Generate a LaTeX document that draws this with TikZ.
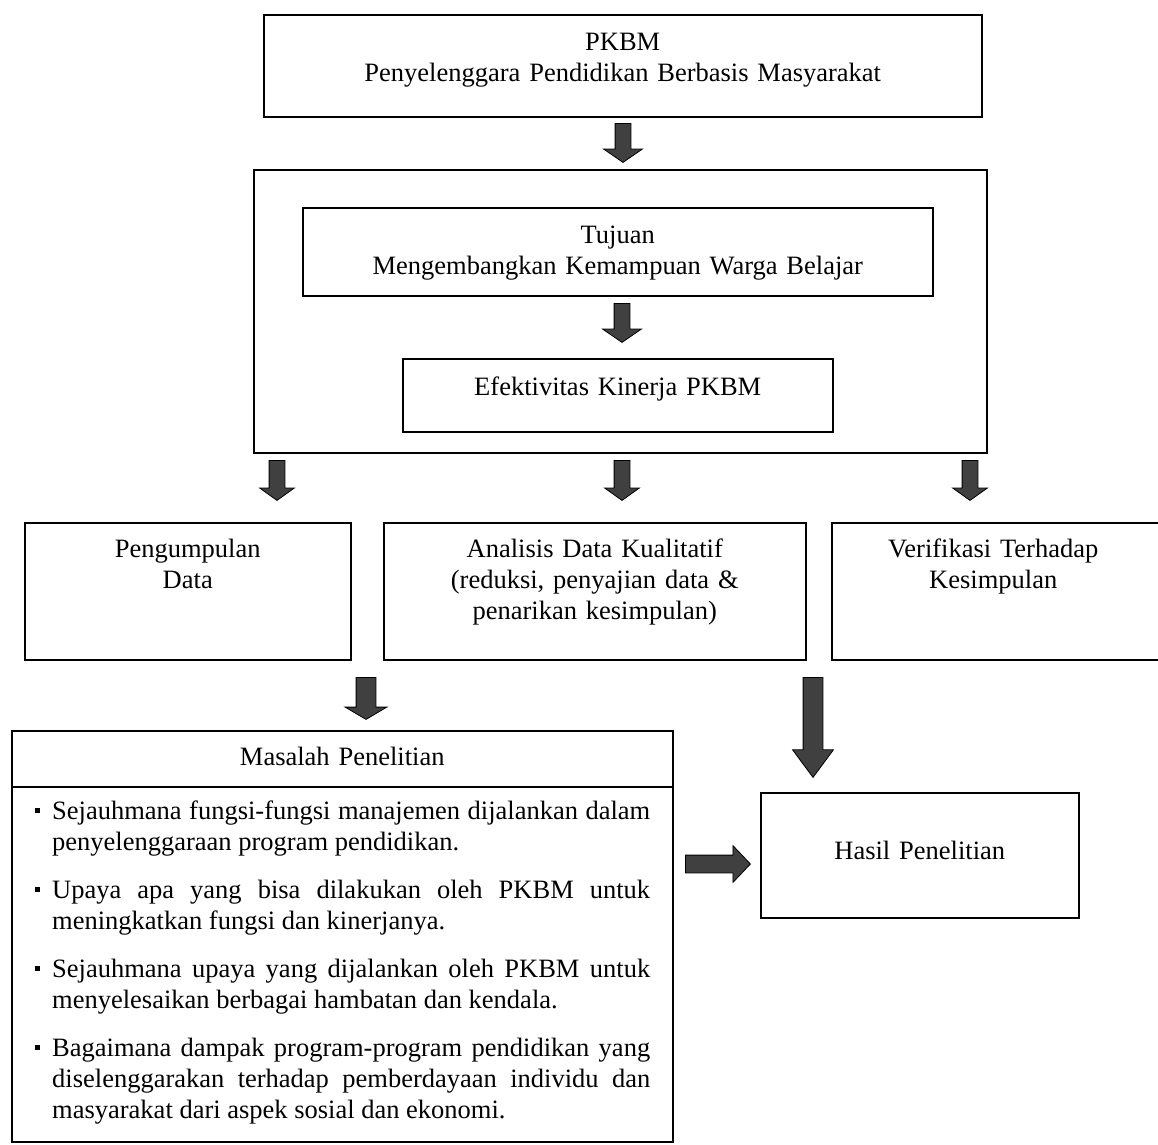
\documentclass[tikz,border=0pt]{standalone}
\usepackage{fontspec}
\setmainfont{Liberation Serif}
\usetikzlibrary{shapes.arrows}
\definecolor{arrowgray}{HTML}{404040}
\hyphenpenalty=10000

\tikzstyle{box}=[draw,line width=1.5pt,rectangle,inner sep=0pt,anchor=north west]
\tikzstyle{boxtext}=[text width=600pt,align=center,inner sep=0pt,anchor=base,font=\fontsize{26.5}{31}\selectfont]
\tikzstyle{itemtext}=[text width=598pt,align=justify,inner sep=0pt,anchor=base west,font=\fontsize{26.5}{31}\selectfont]
\tikzstyle{bullet}=[rectangle,fill=black,minimum size=5pt,inner sep=0pt]
\tikzstyle{fatarrow}=[single arrow,draw=black,fill=arrowgray,line width=0.8pt,shape border rotate=270,single arrow head indent=0pt,inner sep=7.5pt,anchor=tail]

\begin{document}
\begin{tikzpicture}[x=1pt,y=-1pt]
	\clip (0,0) rectangle (1158,1144);
	% boxes
	\node[box,minimum width=718pt,minimum height=102pt] (pkbm) at (263,14) {};
	\node[box,minimum width=733pt,minimum height=283pt] (frame) at (253,169) {};
	\node[box,minimum width=630pt,minimum height=88pt] (tujuan) at (302,207) {};
	\node[box,minimum width=430pt,minimum height=73pt] (efektif) at (402,358) {};
	\node[box,minimum width=326pt,minimum height=137pt] (kumpul) at (24,522) {};
	\node[box,minimum width=422pt,minimum height=137pt] (analisis) at (383,522) {};
	\node[box,minimum width=331pt,minimum height=137pt] (verif) at (831,522) {};
	\node[box,minimum width=661pt,minimum height=411pt] (masalah) at (11,730) {};
	\node[box,minimum width=318pt,minimum height=125pt] (hasil) at (760,792) {};
	\draw[line width=1.5pt] ([yshift=-57pt]masalah.north west) -- ([yshift=-57pt]masalah.north east);

	% texts
	\node[boxtext] (pkbmtext) at ([yshift=-36pt]pkbm.north) {PKBM\\Penyelenggara Pendidikan Berbasis Masyarakat};
	\node[boxtext] (tujuantext) at ([yshift=-36pt]tujuan.north) {Tujuan\\Mengembangkan Kemampuan Warga Belajar};
	\node[boxtext] (efektiftext) at ([yshift=-37pt]efektif.north) {Efektivitas Kinerja PKBM};
	\node[boxtext] (kumpultext) at ([yshift=-35pt]kumpul.north) {Pengumpulan\\Data};
	\node[boxtext] (analisistext) at ([yshift=-35pt]analisis.north) {Analisis Data Kualitatif\\(reduksi, penyajian data \&\\penarikan kesimpulan)};
	\node[boxtext] (veriftext) at ([yshift=-35pt,xshift=-4pt]verif.north) {Verifikasi Terhadap\\Kesimpulan};
	\node[boxtext] (masalahtext) at ([yshift=-35pt]masalah.north) {Masalah Penelitian};
	\node[boxtext] (hasiltext) at ([yshift=-4pt]hasil.center) {Hasil Penelitian};

	% items
	\node[itemtext] (item1) at (52,819) {Sejauhmana fungsi-fungsi manajemen dijalankan dalam\linebreak penyelenggaraan program pendidikan.};
	\node[itemtext] (item2) at (52,898) {Upaya apa yang bisa dilakukan oleh PKBM untuk\linebreak meningkatkan fungsi dan kinerjanya.};
	\node[itemtext] (item3) at (52,977) {Sejauhmana upaya yang dijalankan oleh PKBM untuk\linebreak menyelesaikan berbagai hambatan dan kendala.};
	\node[itemtext] (item4) at (52,1056) {Bagaimana dampak program-program pendidikan yang\linebreak diselenggarakan terhadap pemberdayaan individu dan\linebreak masyarakat dari aspek sosial dan ekonomi.};
	\foreach \y/\n in {819/1,898/2,977/3,1056/4}
		\node[bullet] (bul\n) at (37.5,\y-8.5) {};

	% arrows
	\node[fatarrow,minimum height=39pt,single arrow head extend=11.5pt,single arrow tip angle=111] (arr1) at (623,123) {};
	\node[fatarrow,minimum height=39pt,single arrow head extend=11.5pt,single arrow tip angle=111] (arr2) at (622,303) {};
	\foreach \x/\n in {277/3,622/4,970/5}
		\node[fatarrow,minimum height=40pt,single arrow head extend=9.5pt,single arrow tip angle=109] (arr\n) at (\x,460) {};
	\node[fatarrow,inner sep=9.5pt,minimum height=42pt,single arrow head extend=11pt,single arrow tip angle=119] (arr6) at (366,677) {};
	\node[fatarrow,inner sep=9.5pt,minimum height=100pt,single arrow head extend=10.5pt,single arrow tip angle=73] (arr7) at (813,677) {};
	\node[fatarrow,inner sep=8.5pt,minimum height=65pt,single arrow head extend=9.5pt,single arrow tip angle=93,shape border rotate=0] (arr8) at (685,864) {};
\end{tikzpicture}
\end{document}
